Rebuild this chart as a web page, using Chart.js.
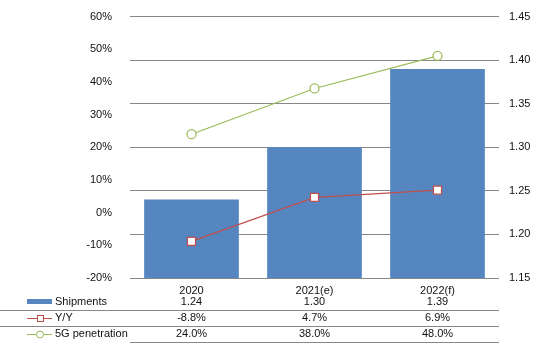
<!DOCTYPE html>
<html>
<head>
<meta charset="utf-8">
<script src="https://cdn.jsdelivr.net/npm/chart.js@4"></script>
<style>
  html, body { margin: 0; padding: 0; background: #fff; }
  #wrap { width: 539px; height: 350px; }
</style>
</head>
<body>
<div id="wrap"><canvas id="chart" width="539" height="350"></canvas></div>
<script>
const years = ['2020', '2021(e)', '2022(f)'];
const shipments = [1.24, 1.30, 1.39];
const yoy = [-8.8, 4.7, 6.9];
const penetration = [24.0, 38.0, 48.0];

const FONT = "'Liberation Sans', Arial, sans-serif";
const BLUE = '#5586c0';
const RED = '#c0504d';
const GREEN = '#9bbb59';

// draws the data table under the plot
const dataTable = {
  id: 'dataTable',
  afterDraw(chart) {
    const ctx = chart.ctx;
    const x = chart.scales.x;
    const area = chart.chartArea;
    ctx.save();
    ctx.font = '11px ' + FONT;
    ctx.fillStyle = '#111';
    ctx.textBaseline = 'middle';

    const rows = [
      { y: 302, label: 'Shipments', vals: shipments.map(v => v.toFixed(2)) },
      { y: 318, label: 'Y/Y', vals: yoy.map(v => v.toFixed(1) + '%') },
      { y: 334, label: '5G penetration', vals: penetration.map(v => v.toFixed(1) + '%') }
    ];
    rows.forEach(r => {
      ctx.textAlign = 'left';
      ctx.fillText(r.label, 55, r.y);
      ctx.textAlign = 'center';
      r.vals.forEach((v, i) => ctx.fillText(v, x.getPixelForValue(i), r.y));
    });

    // legend keys
    ctx.fillStyle = BLUE;
    ctx.fillRect(27, 299, 25, 5);

    ctx.lineWidth = 1;
    ctx.strokeStyle = RED;
    ctx.beginPath(); ctx.moveTo(27, 318.5); ctx.lineTo(52, 318.5); ctx.stroke();
    ctx.fillStyle = '#fff';
    ctx.fillRect(37, 316, 6, 6);
    ctx.strokeRect(37.5, 315.5, 6, 6);

    ctx.strokeStyle = GREEN;
    ctx.beginPath(); ctx.moveTo(27, 334.5); ctx.lineTo(52, 334.5); ctx.stroke();
    ctx.beginPath(); ctx.arc(40, 334.5, 3.5, 0, Math.PI * 2);
    ctx.fill(); ctx.stroke();

    // row lines
    ctx.strokeStyle = '#888';
    ctx.beginPath();
    ctx.moveTo(0, 310.5); ctx.lineTo(area.right, 310.5);
    ctx.moveTo(0, 326.5); ctx.lineTo(area.right, 326.5);
    ctx.moveTo(area.left, 342.5); ctx.lineTo(area.right, 342.5);
    ctx.stroke();
    ctx.restore();
  }
};

new Chart(document.getElementById('chart'), {
  type: 'bar',
  data: {
    labels: years,
    datasets: [
      {
        type: 'line',
        label: 'Y/Y',
        data: yoy,
        yAxisID: 'yLeft',
        borderColor: RED,
        borderWidth: 1.25,
        pointStyle: 'rect',
        pointRadius: 5.7,
        pointBorderWidth: 1.25,
        pointBackgroundColor: '#fff',
        pointBorderColor: RED,
        order: 1
      },
      {
        type: 'line',
        label: '5G penetration',
        data: penetration,
        yAxisID: 'yLeft',
        borderColor: GREEN,
        borderWidth: 1.25,
        pointStyle: 'circle',
        pointRadius: 4.5,
        pointBorderWidth: 1.25,
        pointBackgroundColor: '#fff',
        pointBorderColor: GREEN,
        order: 2
      },
      {
        label: 'Shipments',
        data: shipments,
        yAxisID: 'yRight',
        backgroundColor: BLUE,
        barPercentage: 0.77,
        categoryPercentage: 1,
        order: 3
      }
    ]
  },
  options: {
    responsive: false,
    animation: false,
    layout: { padding: { top: 14, right: 0, left: 0, bottom: 0 } },
    plugins: {
      legend: { display: false },
      tooltip: { enabled: false }
    },
    scales: {
      x: {
        grid: { display: false, drawTicks: false },
        border: { display: false },
        ticks: { color: '#111', font: { family: FONT, size: 11 }, padding: 6 },
        afterFit(s) { s.height = 72; }
      },
      yLeft: {
        position: 'left',
        min: -20,
        max: 60,
        grid: { display: false },
        border: { display: false },
        ticks: {
          stepSize: 10,
          padding: 10,
          color: '#111',
          font: { family: FONT, size: 11 },
          callback: v => v + '%'
        },
        afterFit(s) { s.width = 130; }
      },
      yRight: {
        position: 'right',
        min: 1.15,
        max: 1.45,
        grid: { color: '#888', lineWidth: 1, drawTicks: false },
        border: { display: false },
        ticks: {
          stepSize: 0.05,
          padding: 10,
          color: '#111',
          font: { family: FONT, size: 11 },
          callback: v => v.toFixed(2)
        },
        afterFit(s) { s.width = 40; }
      }
    }
  },
  plugins: [dataTable]
});
</script>
</body>
</html>
